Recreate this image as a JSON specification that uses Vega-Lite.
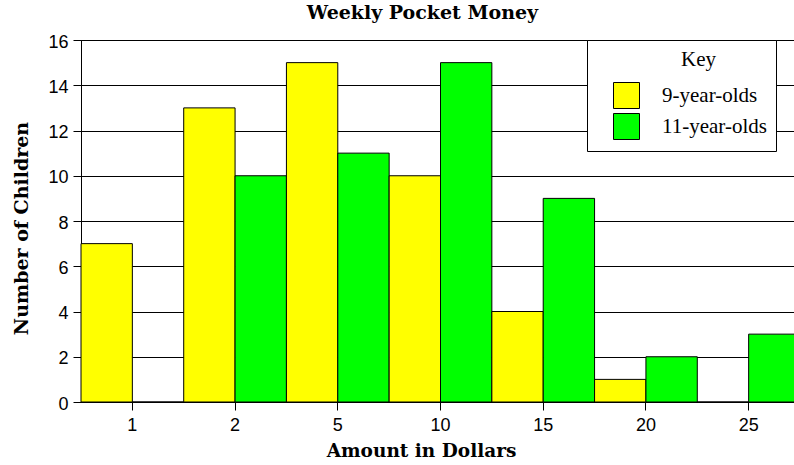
{
  "$schema": "https://vega.github.io/schema/vega-lite/v6.json",
  "width": 719,
  "height": 362,
  "autosize": "none",
  "padding": {"left": 81, "top": 40, "right": 0, "bottom": 63},
  "background": "white",
  "title": {
    "text": "Weekly Pocket Money",
    "font": "DejaVu Serif",
    "fontSize": 19,
    "fontWeight": "bold",
    "color": "black",
    "anchor": "middle",
    "dx": -18,
    "dy": 21,
    "offset": 16,
    "baseline": "alphabetic"
  },
  "data": {
    "values": [
      {"amount": "1", "group": "9-year-olds", "count": 7},
      {"amount": "1", "group": "11-year-olds", "count": 0},
      {"amount": "2", "group": "9-year-olds", "count": 13},
      {"amount": "2", "group": "11-year-olds", "count": 10},
      {"amount": "5", "group": "9-year-olds", "count": 15},
      {"amount": "5", "group": "11-year-olds", "count": 11},
      {"amount": "10", "group": "9-year-olds", "count": 10},
      {"amount": "10", "group": "11-year-olds", "count": 15},
      {"amount": "15", "group": "9-year-olds", "count": 4},
      {"amount": "15", "group": "11-year-olds", "count": 9},
      {"amount": "20", "group": "9-year-olds", "count": 1},
      {"amount": "20", "group": "11-year-olds", "count": 2},
      {"amount": "25", "group": "9-year-olds", "count": 0},
      {"amount": "25", "group": "11-year-olds", "count": 3}
    ]
  },
  "mark": {"type": "bar", "stroke": "black", "strokeWidth": 1},
  "encoding": {
    "x": {
      "field": "amount",
      "type": "nominal",
      "sort": ["1", "2", "5", "10", "15", "20", "25"],
      "scale": {"paddingInner": 0, "paddingOuter": 0},
      "axis": {
        "title": "Amount in Dollars",
        "titleFont": "DejaVu Serif",
        "titleFontSize": 18.5,
        "titleFontWeight": "bold",
        "titleColor": "black",
        "titleX": 340,
        "titleY": 54,
        "titleBaseline": "alphabetic",
        "labelAngle": 0,
        "labelFont": "Liberation Sans",
        "labelFontSize": 18,
        "labelColor": "black",
        "labelBaseline": "top",
        "labelPadding": 6,
        "tickSize": 8,
        "tickColor": "black",
        "domainColor": "black",
        "grid": false
      }
    },
    "xOffset": {
      "field": "group",
      "type": "nominal",
      "scale": {"domain": ["9-year-olds", "11-year-olds"], "paddingInner": 0, "paddingOuter": 0}
    },
    "y": {
      "field": "count",
      "type": "quantitative",
      "scale": {"domain": [0, 16], "nice": false},
      "axis": {
        "title": "Number of Children",
        "titleFont": "DejaVu Serif",
        "titleFontSize": 19,
        "titleFontWeight": "bold",
        "titleColor": "black",
        "titleX": -54,
        "titleY": 188,
        "titleAngle": 270,
        "titleBaseline": "alphabetic",
        "values": [0, 2, 4, 6, 8, 10, 12, 14, 16],
        "labelFont": "Liberation Sans",
        "labelFontSize": 18,
        "labelColor": "black",
        "labelPadding": 5,
        "labelOffset": 2,
        "labelFlush": false,
        "tickSize": 8,
        "tickColor": "black",
        "domainColor": "black",
        "grid": true,
        "gridColor": "black",
        "gridOpacity": 1,
        "gridWidth": 1
      }
    },
    "color": {
      "field": "group",
      "type": "nominal",
      "scale": {"domain": ["9-year-olds", "11-year-olds"], "range": ["#ffff00", "#00ff00"]},
      "legend": {
        "title": "Key",
        "orient": "none",
        "legendX": 506,
        "legendY": 0,
        "padding": 9,
        "fillColor": "white",
        "strokeColor": "black",
        "titleFont": "Liberation Serif",
        "titleFontSize": 21,
        "titleFontWeight": "normal",
        "titleColor": "black",
        "titleAnchor": "middle",
        "titleAlign": "left",
        "titlePadding": 12,
        "symbolType": "square",
        "symbolSize": 676,
        "symbolStrokeColor": "black",
        "symbolStrokeWidth": 1,
        "symbolOpacity": 1,
        "symbolOffset": 17,
        "labelOffset": 22,
        "labelFont": "Liberation Serif",
        "labelFontSize": 21,
        "labelColor": "black",
        "labelLimit": 300,
        "rowPadding": 0
      }
    }
  },
  "config": {"view": {"stroke": "black", "strokeWidth": 1}}
}
